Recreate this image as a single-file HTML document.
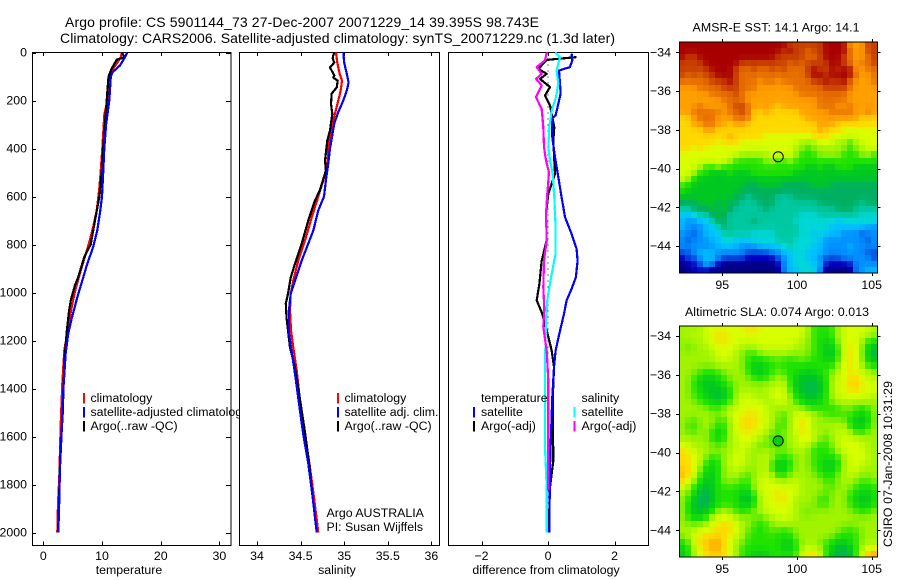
<!DOCTYPE html>
<html>
<head>
<meta charset="utf-8">
<title>Argo profile chart</title>
<style>
html,body{margin:0;padding:0;background:#fff;}
svg{display:block;}
text{font-family:"Liberation Sans",sans-serif;font-size:12.35px;fill:#000;}
</style>
</head>
<body>
<svg id="chart" xmlns="http://www.w3.org/2000/svg" width="900" height="580" viewBox="0 0 900 580">
<rect x="0" y="0" width="900" height="580" fill="#fff"/>
<text x="65" y="27" style="font-size:14px" textLength="474" lengthAdjust="spacing">Argo profile: CS 5901144_73 27-Dec-2007 20071229_14 39.395S 98.743E</text>
<text x="60" y="43" style="font-size:14px" textLength="555" lengthAdjust="spacing">Climatology: CARS2006. Satellite-adjusted climatology: synTS_20071229.nc (1.3d later)</text>
<g id="layer"></g>
<text transform="translate(892,547) rotate(-90)" textLength="166" lengthAdjust="spacing">CSIRO 07-Jan-2008 10:31:29</text>
</svg>
<script>
// ---------- profile data ----------
const depthTicks = [0,200,400,600,800,1000,1200,1400,1600,1800,2000];
const tempTicks = [0,10,20,30];
const salTicks = [34,34.5,35,35.5,36];
const diffTicks = [-2,0,2];
const lonTicks = [95,100,105];
const latTicks = [-34,-36,-38,-40,-42,-44];

const tempClimDepth = [0,20,67,100,200,260,400,490,575,658,727,790,850,920,990,1060,1158,1242,1380,1550,1770,1880,2000];
const tempClimValues = [13.35,13.2,11.9,11.25,10.9,10.4,10.05,9.8,9.5,9.1,8.5,7.84,7.1,6.25,5.45,4.84,4.15,3.58,3.24,2.96,2.73,2.5,2.39];
const tempArgoDepth = [0,20,30,67,100,200,300,400,500,600,700,800,850,940,970,1030,1075,1160,1283,1505,1700,1900,2000];
const tempArgoValues = [13.4,13.8,12.5,11.65,11.1,10.8,10.5,10.2,9.95,9.55,8.8,8.07,7.0,5.9,5.4,4.7,4.4,4.0,3.6,3.3,2.85,2.65,2.5];
const tempSatDepth = [0,20,54,82,100,200,300,400,500,600,670,740,810,880,950,1020,1108,1170,1255,1408,1575,1729,1908,2000];
const tempSatValues = [14.3,13.9,13.07,11.8,11.5,11.25,10.7,10.4,10.2,10,9.65,9.2,8.5,7.5,6.65,5.8,4.84,4.26,3.8,3.4,3.13,2.85,2.68,2.56];

const salClimDepth = [0,42,83,117,158,200,255,310,400,479,540,600,687,783,867,950,1005,1075,1158,1229,1325,1450,1590,1729,1854,2000];
const salClimValues = [34.906,34.921,34.944,34.975,34.96,34.932,34.894,34.857,34.818,34.806,34.753,34.703,34.627,34.55,34.474,34.416,34.386,34.378,34.39,34.416,34.455,34.493,34.55,34.608,34.654,34.703];
const salSatDepth = [0,42,89,125,158,200,250,296,400,463,533,600,658,742,796,867,938,1005,1060,1158,1229,1338,1463,1590,1713,1854,2000];
const salSatValues = [34.99,35.0,35.03,35.05,35.03,34.99,34.93,34.886,34.837,34.818,34.79,34.768,34.703,34.646,34.588,34.513,34.447,34.386,34.37,34.364,34.39,34.436,34.482,34.53,34.588,34.639,34.685];
const salArgoDepth = [0,12,25,42,62,85,96,105,117,146,171,214,256,325,367,450,492,575,617,700,796,880,938,1005,1046,1108,1229,1313,1446,1583,1708,1854,2000];
const salArgoValues = [34.886,34.875,34.868,34.886,34.837,34.87,34.886,34.875,34.925,34.914,34.857,34.849,34.864,34.837,34.806,34.78,34.79,34.72,34.664,34.588,34.513,34.436,34.386,34.356,34.33,34.34,34.378,34.436,34.493,34.55,34.596,34.639,34.685];

const diffTempSatDepth = [5,33,61,75,130,172,214,262,276,353,436,519,603,686,756,818,867,936,985,1033,1089,1172,1242,1311,1436,1589,1728,2000];
const diffTempSatValues = [0.71,0.73,0.66,0.33,0.36,0.38,0.31,0.23,0.11,0.13,0.21,0.31,0.41,0.51,0.71,0.86,0.89,0.84,0.71,0.56,0.48,0.34,0.23,0.18,0.13,0.09,0.06,0.04];
const diffTempArgoDepth = [19,31,68,89,110,144,179,221,311,367,506,589,672,783,867,964,1033,1082,1158,1242,1311,1450,1700,1811,2000];
const diffTempArgoValues = [0.86,-0.04,-0.29,-0.04,-0.24,0.06,-0.09,0.06,0.19,0.16,0.21,0.01,-0.06,-0.04,-0.19,-0.26,-0.34,-0.19,-0.04,0.11,0.18,0.14,0.16,0.06,0.02];
const diffSalSatDepth = [0,19,75,130,186,242,311,394,450,506,603,728,839,922,1005,1033,1117,1297,1644,1811,2000];
const diffSalSatValues = [0.21,0.36,0.26,0.31,0.24,0.11,0.04,0.01,0.06,0.14,0.19,0.23,0.23,0.11,0.01,-0.02,-0.06,-0.09,-0.09,-0.04,-0.04];
const diffSalArgoDepth = [0,33,61,89,110,137,186,235,311,394,450,499,589,672,783,867,978,1068,1143,1242,1367,1825];
const diffSalArgoValues = [-0.04,-0.09,-0.34,-0.19,-0.36,-0.19,-0.36,-0.19,-0.14,-0.12,-0.06,0.03,-0.02,-0.06,-0.04,-0.12,-0.14,-0.11,-0.14,-0.04,0.01,0.01];

// ---------- map data (colour-scale level per cell, north to south) ----------
const sstLevels = [
[16,16,16,16,16,16,16,16,16,16,16,16,16,16,16,16,16,16,15,15,15,15,15,15,16,16,16,16,13,13,13,15,15],
[16,16,16,16,16,16,16,16,16,16,16,16,16,16,16,16,16,15,16,15,15,14,15,15,16,16,16,16,14,13,13,15,15],
[16,15,15,16,16,16,16,16,16,16,16,16,16,16,16,16,15,15,15,15,15,14,14,15,16,16,16,15,14,13,13,14,15],
[15,15,15,15,16,16,16,16,16,16,15,15,15,15,15,15,15,15,14,15,14,15,15,15,15,16,16,15,14,13,14,14,15],
[15,15,15,15,15,16,16,16,16,15,14,14,15,14,14,15,14,15,14,14,14,15,16,15,15,16,15,16,16,13,13,14,14],
[15,14,15,14,15,15,16,16,16,15,14,14,14,14,14,14,14,14,14,14,14,15,16,16,15,16,16,16,16,14,13,13,14],
[14,14,14,14,14,15,15,15,16,15,14,14,14,13,14,14,13,14,14,14,14,14,15,15,16,15,15,16,14,13,13,13,14],
[13,13,13,14,14,14,14,15,15,15,14,14,14,13,13,13,13,13,13,14,14,14,14,14,15,15,15,15,14,13,13,13,13],
[13,13,13,13,13,14,14,14,14,15,14,13,13,13,13,13,13,13,13,13,14,14,14,14,14,14,14,14,13,13,13,13,13],
[13,13,13,13,13,13,13,14,14,14,14,13,13,13,13,13,13,13,13,13,13,13,13,14,14,14,14,14,13,13,13,13,13],
[13,13,13,14,13,13,13,13,14,15,15,14,13,13,13,13,12,13,13,13,13,13,13,14,14,14,13,13,14,13,13,13,13],
[13,13,14,14,14,14,14,13,14,14,15,14,12,12,13,12,12,12,12,12,13,13,13,13,13,14,14,14,14,13,13,14,13],
[12,12,13,14,14,14,13,13,13,14,14,14,12,12,12,12,12,12,12,12,12,13,13,13,13,13,13,13,13,13,12,12,12],
[12,12,13,13,14,14,13,13,12,13,13,12,12,12,12,12,12,12,12,12,12,12,12,13,13,13,12,12,12,12,12,12,12],
[12,12,12,12,13,13,12,12,12,12,12,12,12,12,12,12,12,12,12,12,12,12,12,13,12,12,12,11,11,11,11,11,11],
[12,12,12,12,12,12,12,12,13,12,12,12,12,12,11,11,11,11,11,11,11,11,12,12,12,11,11,11,11,11,11,11,11],
[12,12,12,12,12,12,11,12,12,12,11,11,11,11,11,11,11,11,11,11,10,10,10,11,11,11,10,10,9,10,11,11,11],
[12,12,11,12,11,11,11,11,11,11,11,11,11,11,11,11,11,11,11,10,10,9,10,10,10,10,10,10,9,10,10,11,11],
[11,11,11,11,11,11,11,11,11,11,10,10,10,10,10,11,11,11,11,10,9,9,9,10,10,10,10,9,9,9,10,10,9],
[11,11,11,11,11,11,11,11,10,9,9,9,9,9,10,10,9,9,10,9,9,9,9,9,9,9,9,9,9,9,9,9,9],
[11,11,11,10,9,9,10,9,9,9,9,9,9,9,9,9,9,9,9,9,9,8,8,9,8,8,9,9,9,8,8,8,8],
[11,11,10,9,9,8,8,8,9,8,8,8,9,9,9,9,9,9,9,8,8,8,8,8,8,8,8,8,8,8,8,8,8],
[11,10,9,8,8,8,8,8,8,8,8,8,8,8,8,8,8,8,8,8,8,8,8,8,8,8,8,8,8,8,8,8,8],
[9,9,8,8,8,8,8,8,8,8,8,7,7,8,8,8,8,7,7,7,7,7,8,8,8,7,7,7,7,7,7,7,7],
[9,8,8,8,8,8,8,8,8,8,7,7,7,7,7,7,7,7,7,7,7,7,7,7,7,7,7,7,7,7,7,7,7],
[8,8,8,8,8,8,8,8,8,7,7,6,7,7,7,7,6,6,6,7,7,7,7,7,7,7,7,7,7,7,7,7,7],
[7,7,7,8,8,8,7,8,7,7,6,6,6,7,7,7,6,6,6,6,6,6,6,7,7,7,7,7,7,7,6,7,7],
[6,6,7,7,7,8,7,8,7,6,6,6,6,6,7,6,6,6,6,6,6,6,6,6,6,6,7,7,7,6,6,6,6],
[4,4,5,6,6,7,8,7,6,6,6,6,6,6,6,6,6,6,6,6,5,5,5,6,6,6,6,6,6,6,5,5,5],
[4,3,3,4,4,6,7,7,6,6,6,6,7,6,6,6,6,6,6,5,5,5,5,5,5,5,4,5,5,5,5,6,5],
[4,3,3,3,4,4,6,7,6,6,6,6,6,6,6,6,6,6,6,6,5,5,5,5,5,4,4,4,4,4,4,3,3],
[3,3,2,3,4,4,4,6,6,6,6,6,5,5,5,5,6,6,6,6,5,5,4,5,4,4,4,3,3,3,2,3,3],
[3,2,3,3,3,4,4,5,5,4,4,4,5,5,5,5,6,6,6,5,5,5,5,4,3,3,3,3,3,3,3,2,3],
[3,3,3,3,3,3,4,4,4,4,3,3,3,4,4,4,4,5,6,5,5,5,4,4,3,3,3,3,4,3,3,3,3],
[2,2,3,4,4,4,3,3,3,3,3,2,2,2,2,3,3,4,4,5,5,4,4,4,3,3,3,3,3,3,3,2,2],
[1,2,2,3,4,4,3,2,2,2,2,1,1,1,1,1,2,3,4,5,5,4,4,3,2,2,2,3,3,3,3,3,2],
[0,1,1,2,4,3,1,0,0,0,0,0,0,0,0,0,1,3,4,5,5,5,4,4,1,1,1,1,1,3,3,3,3],
[0,0,1,1,1,0,0,0,0,0,0,0,0,0,0,0,0,3,4,4,5,5,5,3,0,0,0,0,0,3,3,4,4]
];
const slaLevels = [
[10,10,10,10,11,11,11,11,11,11,11,12,12,11,11,11,11,11,11,11,11,10,9,9,9,9,10,11,11,11,11,11,10],
[10,10,11,10,11,11,12,12,11,11,11,11,11,11,11,11,11,11,11,11,11,10,9,9,9,9,10,11,11,11,11,10,10],
[10,10,10,10,11,11,12,12,11,11,11,11,11,11,11,11,11,11,11,11,10,10,9,9,8,9,10,11,11,11,10,9,9],
[10,9,10,10,10,11,11,11,11,11,10,10,10,11,11,11,11,11,11,10,10,10,9,9,8,8,9,11,12,11,10,8,8],
[10,10,10,10,10,10,11,11,11,10,10,9,9,10,10,10,10,10,10,10,10,10,9,9,8,8,9,11,12,11,10,8,7],
[10,10,10,10,10,10,11,11,11,10,10,9,9,9,9,9,10,9,9,9,10,9,9,9,8,8,9,11,12,11,10,8,8],
[10,10,10,10,10,10,10,10,10,10,10,9,8,8,9,9,9,9,9,9,9,9,9,9,9,9,10,11,12,11,10,9,9],
[10,10,10,9,9,9,9,10,10,10,10,9,8,8,8,9,10,9,9,9,8,8,8,9,9,10,10,11,12,11,11,10,10],
[10,10,9,9,8,8,9,9,10,10,10,10,9,9,9,10,10,10,9,8,8,8,8,8,9,10,11,11,12,12,11,11,10],
[10,10,9,8,8,8,8,9,9,10,10,10,10,10,10,10,10,11,9,8,8,7,7,8,9,10,11,11,12,13,11,11,11],
[10,10,9,9,8,8,8,8,9,10,10,10,10,10,10,11,11,11,9,8,8,7,7,8,9,10,11,11,12,12,11,11,11],
[10,10,9,9,8,8,7,8,9,10,11,11,10,10,10,11,11,11,10,9,8,8,8,8,9,10,11,11,11,11,11,11,10],
[10,10,10,9,9,9,8,9,9,10,11,11,11,11,10,10,11,11,10,9,9,8,8,9,9,10,10,10,10,10,10,10,10],
[10,10,10,10,10,9,9,10,10,11,11,11,11,11,11,10,10,10,10,10,10,9,9,9,9,9,9,10,10,9,9,9,10],
[10,10,10,10,10,10,10,10,11,11,11,12,12,11,11,10,10,9,10,11,11,11,10,10,9,9,9,9,9,9,8,9,10],
[10,10,9,10,10,10,9,9,10,11,12,12,12,11,11,10,10,9,10,11,12,11,10,10,10,10,10,10,9,8,8,8,10],
[10,9,9,10,10,10,9,9,10,11,12,12,12,11,11,10,9,9,10,11,12,11,10,10,10,10,10,10,9,8,8,9,10],
[10,10,9,10,10,9,8,9,10,11,11,12,11,11,10,10,9,10,10,11,12,11,10,10,10,10,11,11,10,9,9,10,10],
[10,10,10,10,10,9,8,9,10,11,11,11,11,10,10,9,9,10,10,10,11,12,11,10,9,10,10,11,11,11,10,10,10],
[11,11,10,10,10,10,9,10,10,10,11,11,10,9,10,9,9,9,10,11,11,10,9,9,9,10,11,11,11,11,11,10,10],
[12,11,11,10,10,10,10,10,10,11,11,10,10,10,10,10,10,10,10,10,10,10,9,9,9,9,10,11,11,11,11,10,10],
[12,12,11,11,10,9,9,10,10,11,11,10,10,10,11,10,9,9,9,10,10,10,9,9,9,9,9,10,11,11,11,11,10],
[12,12,11,10,9,8,9,10,11,11,11,10,10,10,11,9,8,8,9,10,10,10,9,9,8,8,9,10,11,11,11,10,10],
[12,12,11,10,9,8,9,10,10,11,10,10,10,10,11,9,8,8,9,10,10,10,9,9,8,8,9,10,11,11,10,10,10],
[13,12,11,9,8,8,9,10,10,10,10,9,10,10,11,10,9,9,10,10,10,10,10,9,9,9,10,10,11,10,10,10,10],
[12,11,10,9,8,8,9,10,10,10,9,9,10,11,11,11,10,10,10,11,10,10,10,10,9,9,10,10,10,10,9,9,10],
[11,10,9,8,8,8,9,9,9,9,9,9,10,11,11,11,11,11,11,11,10,10,10,10,10,9,10,10,10,9,9,9,9],
[10,10,9,7,7,8,9,9,9,9,8,8,9,11,11,11,12,11,11,11,10,10,10,10,9,10,10,10,9,9,8,8,9],
[10,9,8,7,7,8,9,9,9,9,8,7,9,10,11,11,12,12,11,10,10,10,10,9,9,10,10,10,9,8,8,8,9],
[10,9,8,7,7,8,9,9,9,9,8,8,9,10,11,11,11,11,11,10,10,10,10,9,9,10,10,10,9,9,8,8,9],
[10,9,8,8,8,9,10,10,10,9,9,9,10,10,11,11,11,11,11,10,10,9,10,10,10,10,10,10,10,9,9,9,10],
[10,9,8,8,9,10,11,11,11,10,10,10,10,9,10,10,11,11,11,10,10,10,10,10,10,10,10,10,10,10,10,10,10],
[10,10,10,10,10,11,12,12,12,11,10,10,9,9,9,10,10,10,10,10,10,10,10,10,10,10,10,10,10,10,10,10,10],
[10,10,10,11,11,11,12,12,12,11,10,10,9,9,9,10,9,9,9,10,10,10,10,10,10,10,10,9,9,9,10,10,10],
[10,10,11,12,12,12,12,12,11,11,10,9,9,9,9,9,9,9,9,10,10,10,10,10,10,10,9,9,9,9,10,10,10],
[9,9,11,12,12,13,13,12,11,10,10,9,9,9,9,9,9,8,8,9,10,10,10,10,9,9,8,8,9,9,10,10,10],
[8,9,10,12,12,13,13,12,11,10,9,9,9,9,9,9,9,8,8,9,10,11,10,10,9,8,8,7,8,9,10,11,11],
[8,9,10,11,12,12,12,12,11,10,9,9,8,8,8,9,9,9,9,9,11,12,12,11,9,8,7,7,8,9,11,13,13]
];
const colorScale = [[0,0,128],[0,0,192],[0,80,224],[0,144,255],[0,191,255],[0,216,216],[0,200,160],[0,176,96],[0,200,32],[32,228,0],[160,244,0],[216,255,0],[255,216,0],[255,160,0],[232,112,0],[200,64,0],[168,0,0]];
const floatLon = 98.743;
const floatLat = -39.395;

// ---------- scales ----------
const NS = "http://www.w3.org/2000/svg";
const layer = document.getElementById("layer");
const yDepth = d => 52.5 + d * 0.24;
const xTemp = v => 43.3 + v * 5.87;
const xSal = v => 257 + (v - 34) * 87.2;
const xDiff = v => 548 + v * 33.25;
const xLon = v => 722.3 + (v - 95) * 14.94;
const yLat1 = v => 52.3 + (-34 - v) * 19.37;
const yLat2 = v => 336 + (-34 - v) * 19.43;
const fmt = v => String(v).replace("-", "\u2212");

function mk(tag, attrs) {
  const e = document.createElementNS(NS, tag);
  for (const k in attrs) e.setAttribute(k, attrs[k]);
  layer.appendChild(e);
  return e;
}
function label(str, x, y, anchor) {
  const t = mk("text", {x: x, y: y, "text-anchor": anchor || "start"});
  t.textContent = str;
  return t;
}
function vtick(x, y1, y2) {
  return mk("line", {x1: Math.round(x) + 0.5, x2: Math.round(x) + 0.5, y1: y1, y2: y2, stroke: "#000", "stroke-width": 1, "shape-rendering": "crispEdges"});
}
function htick(y, x1, x2) {
  return mk("line", {x1: x1, x2: x2, y1: Math.round(y) + 0.5, y2: Math.round(y) + 0.5, stroke: "#000", "stroke-width": 1, "shape-rendering": "crispEdges"});
}
function frame(x, y, w, h, fill) {
  return mk("rect", {x: x, y: y, width: w, height: h, fill: fill, stroke: "#000", "stroke-width": 1, "shape-rendering": "crispEdges"});
}
function profile(depths, values, xf, color, width) {
  const pts = depths.map((d, i) => xf(values[i]).toFixed(1) + "," + yDepth(d).toFixed(1)).join(" ");
  return mk("polyline", {points: pts, fill: "none", stroke: color, "stroke-width": width || 2.2, "stroke-linejoin": "round", "shape-rendering": "crispEdges"});
}
function swatch(x, y, color) {
  return mk("rect", {x: x, y: y, width: 2, height: 10.5, fill: color, "shape-rendering": "crispEdges"});
}

const TOP = 52.5, BOT = 545.5;
let e;

// ---------- panel 1: temperature ----------
e = frame(32.5, TOP, 198.5, BOT - TOP, "#fff");


depthTicks.forEach(d => {
  e = htick(yDepth(d), 32.5, 36);
  
  
  e = htick(yDepth(d), 226, 231);
  
  
  e = label(String(d), 27, yDepth(d) + 4, "end");
  
  
});
tempTicks.forEach(v => {
  e = vtick(xTemp(v), TOP, TOP + 3.5);
  
  
  e = vtick(xTemp(v), BOT - 4, BOT);
  
  
  e = label(fmt(v), xTemp(v), 560, "middle");
  
  
});
e = profile(tempClimDepth, tempClimValues, xTemp, "#ff0000");


e = profile(tempArgoDepth, tempArgoValues, xTemp, "#000000");


e = profile(tempSatDepth, tempSatValues, xTemp, "#0000ff");


e = label("temperature", 129, 574, "middle");


e = swatch(83, 393, "#ff0000");


e = swatch(83, 407, "#0000ff");


e = swatch(83, 421, "#000000");


e = label("climatology", 90.5, 402);


e = label("satellite-adjusted climatology", 90.5, 416);


e = label("Argo(..raw -QC)", 90.5, 430);



// ---------- panel 2: salinity ----------
e = frame(239.5, TOP, 200, BOT - TOP, "#fff");


salTicks.forEach(v => {
  e = vtick(xSal(v), TOP, TOP + 3.5);
  
  
  e = vtick(xSal(v), BOT - 4, BOT);
  
  
  e = label(fmt(v), xSal(v), 560, "middle");
  
  
});
e = profile(salClimDepth, salClimValues, xSal, "#ff0000");


e = profile(salArgoDepth, salArgoValues, xSal, "#000000");


e = profile(salSatDepth, salSatValues, xSal, "#0000ff");


e = label("salinity", 337, 574, "middle");


e = swatch(337, 393, "#ff0000");


e = swatch(337, 407, "#0000ff");


e = swatch(337, 421, "#000000");


e = label("climatology", 344.5, 402);


e = label("satellite adj. clim.", 344.5, 416);


e = label("Argo(..raw -QC)", 344.5, 430);


e = label("Argo AUSTRALIA", 326.5, 517);


e = label("PI: Susan Wijffels", 326.5, 531);



// ---------- panel 3: differences ----------
e = frame(448.5, TOP, 200, BOT - TOP, "#fff");


diffTicks.forEach(v => {
  e = vtick(xDiff(v), TOP, TOP + 3.5);
  
  
  e = vtick(xDiff(v), BOT - 4, BOT);
  
  
  e = label(fmt(v), xDiff(v), 560, "middle");
  
  
});
e = mk("line", {x1: xDiff(0), x2: xDiff(0), y1: TOP, y2: yDepth(2000), stroke: "#000", "stroke-width": 1, "stroke-dasharray": "1 5", "shape-rendering": "crispEdges"});


e = profile(diffTempArgoDepth, diffTempArgoValues, xDiff, "#000000");


e = profile(diffTempSatDepth, diffTempSatValues, xDiff, "#0000ff");


e = profile(diffSalSatDepth, diffSalSatValues, xDiff, "#00ffff");


e = profile(diffSalArgoDepth, diffSalArgoValues, xDiff, "#ff00ff");


e = label("difference from climatology", 546, 574, "middle");


e = label("temperature", 481, 402);


e = label("satellite", 481, 416);


e = label("Argo(-adj)", 481, 430);


e = label("salinity", 581.5, 402);


e = label("satellite", 581.5, 416);


e = label("Argo(-adj)", 581.5, 430);


e = swatch(473, 407, "#0000ff");


e = swatch(473, 421, "#000000");


e = swatch(573.5, 407, "#00ffff");


e = swatch(573.5, 421, "#ff00ff");



// ---------- maps ----------
const MX0 = 679, MX1 = 877;
function rampColor(level) {
  const t = Math.max(0, Math.min(colorScale.length - 1, level));
  const i = Math.min(colorScale.length - 2, Math.floor(t));
  const f = t - i;
  const a = colorScale[i], b = colorScale[i + 1];
  return "rgb(" + [0, 1, 2].map(k => Math.round(a[k] + (b[k] - a[k]) * f)).join(",") + ")";
}
// Display-only blending of a cell with its neighbours; centre weight sets how strong it is.
function blended(levels, r, c, centre) {
  const rows = levels.length;
  const w = [1, centre, 1];
  let sum = 0, tot = 0;
  for (let dr = -1; dr <= 1; dr++) {
    for (let dc = -1; dc <= 1; dc++) {
      const row = levels[Math.max(0, Math.min(rows - 1, r + dr))];
      const v = row[Math.max(0, Math.min(row.length - 1, c + dc))];
      const wt = w[dr + 1] * w[dc + 1];
      sum += v * wt;
      tot += wt;
    }
  }
  return sum / tot;
}
function drawCells(levels, y0, y1, name, centre) {
  const rh = (y1 - y0) / levels.length;
  levels.forEach((row, r) => {
    const cw = (MX1 - MX0) / row.length;
    row.forEach((lv, c) => {
      const px = Math.round(MX0 + c * cw), px2 = Math.round(MX0 + (c + 1) * cw);
      const py = Math.round(y0 + r * rh), py2 = Math.round(y0 + (r + 1) * rh);
      const cell = mk("rect", {x: px, y: py, width: px2 - px, height: py2 - py, fill: rampColor(blended(levels, r, c, centre)), "shape-rendering": "crispEdges"});
      
      
    });
  });
}
function mapAxes(y0, y1, yLat, xLabelY) {
  lonTicks.forEach(v => {
    const top = vtick(xLon(v), y0 - 3, y0);
    
    
    const bot = vtick(xLon(v), y1, y1 + 3);
    
    
    const t = label(String(v), xLon(v), xLabelY, "middle");
    
    
  });
  latTicks.forEach(v => {
    const l = htick(yLat(v), MX0 - 3, MX0);
    
    
    const rt = htick(yLat(v), MX1, MX1 + 3.5);
    
    
    const t = label(fmt(v), 671, yLat(v) + 4, "end");
    
    
  });
}

// SST map
drawCells(sstLevels, 42, 273, "sst-map-cell", 4);
e = frame(679.5, 42, 198, 231, "none");


mapAxes(42, 273, yLat1, 289);
e = mk("text", {x: 692.5, y: 31.5, textLength: 167, lengthAdjust: "spacing"});
e.textContent = "AMSR-E SST: 14.1  Argo: 14.1";


e = mk("circle", {cx: xLon(floatLon), cy: yLat1(floatLat), r: 5, fill: "none", stroke: "#000", "stroke-width": 1});



// SLA map
drawCells(slaLevels, 326, 557, "sla-map-cell", 2);
e = frame(679.5, 326, 198, 231, "none");


mapAxes(326, 557, yLat2, 573);
e = mk("text", {x: 685, y: 316, textLength: 184, lengthAdjust: "spacing"});
e.textContent = "Altimetric SLA: 0.074  Argo: 0.013";


e = mk("circle", {cx: xLon(floatLon), cy: yLat2(floatLat), r: 5, fill: "#00d010", stroke: "#000", "stroke-width": 1});


</script>
</body>
</html>
